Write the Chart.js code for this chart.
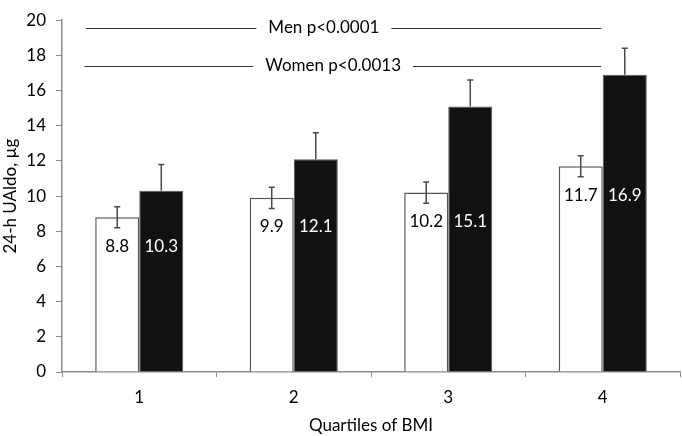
<!DOCTYPE html>
<html>
<head>
<meta charset="utf-8">
<script src="https://cdn.jsdelivr.net/npm/chart.js@4"></script>
<style>
  html, body { margin: 0; padding: 0; background: #fff; }
  #wrap { width: 682px; height: 436px; }
</style>
</head>
<body>
<div id="wrap"><canvas id="chart"></canvas></div>
<script>
// Data
const quartiles = ['1', '2', '3', '4'];
const women = [8.8, 9.9, 10.2, 11.7];
const womenErr = [0.6, 0.6, 0.6, 0.6];
const men = [10.3, 12.1, 15.1, 16.9];
const menErr = [1.5, 1.5, 1.5, 1.5];
const yTicks = [0, 2, 4, 6, 8, 10, 12, 14, 16, 18, 20];

// Significance brackets (x in category index units, y in data units)
const brackets = [
    { text: 'Men p<0.0001', y: 19.56, from: -0.345, to: 2.99, textX: 1.195 },
    { text: 'Women p<0.0013', y: 17.37, from: -0.355, to: 2.99, textX: 1.255 }
];

const FONT = 'Lato, "Open Sans", sans-serif';
const AXIS_GREY = '#8c8c8c';

// Error bars + value labels (both labels sit level, below the white bar top)
const barExtras = {
    id: 'barExtras',
    afterDatasetsDraw(chart) {
        const ctx = chart.ctx;
        const yScale = chart.scales.y;
        const firstMeta = chart.getDatasetMeta(0);
        chart.data.datasets.forEach((ds, di) => {
            const meta = chart.getDatasetMeta(di);
            meta.data.forEach((bar, i) => {
                const v = ds.data[i];
                const e = ds.errors[i];
                const yTop = yScale.getPixelForValue(v + e);
                const yBot = yScale.getPixelForValue(ds.errorDown ? v - e : v);
                ctx.save();
                ctx.strokeStyle = '#4a4a4a';
                ctx.lineWidth = 1.5;
                ctx.beginPath();
                ctx.moveTo(bar.x, yTop);
                ctx.lineTo(bar.x, yBot);
                ctx.moveTo(bar.x - 3, yTop);
                ctx.lineTo(bar.x + 3, yTop);
                if (ds.errorDown) {
                    ctx.moveTo(bar.x - 3, yBot);
                    ctx.lineTo(bar.x + 3, yBot);
                }
                ctx.stroke();

                ctx.font = '17px ' + FONT;
                ctx.fillStyle = ds.labelColor;
                ctx.textAlign = 'center';
                ctx.textBaseline = 'middle';
                ctx.fillText(v.toFixed(1), bar.x, firstMeta.data[i].y + 29);
                ctx.restore();
            });
        });
    }
};

// Horizontal significance lines with text in the gap
const sigLines = {
    id: 'sigLines',
    afterDraw(chart) {
        const ctx = chart.ctx;
        const xs = chart.scales.x, ys = chart.scales.y;
        const x0 = xs.getPixelForValue(0);
        const step = xs.getPixelForValue(1) - x0;
        ctx.save();
        ctx.font = '17px ' + FONT;
        ctx.textAlign = 'center';
        ctx.textBaseline = 'middle';
        brackets.forEach(b => {
            const y = Math.round(ys.getPixelForValue(b.y)) + 0.5;
            const left = x0 + b.from * step;
            const right = x0 + b.to * step;
            const tx = x0 + b.textX * step;
            const half = ctx.measureText(b.text).width / 2 + 12;
            ctx.strokeStyle = '#333';
            ctx.lineWidth = 1.2;
            ctx.beginPath();
            ctx.moveTo(left, y);
            ctx.lineTo(tx - half, y);
            ctx.moveTo(tx + half, y);
            ctx.lineTo(right, y);
            ctx.stroke();
            ctx.fillStyle = '#000';
            ctx.fillText(b.text, tx, y - 1);
        });
        ctx.restore();
    }
};

new Chart(document.getElementById('chart'), {
    type: 'bar',
    data: {
        labels: quartiles,
        datasets: [
            {
                label: 'Women',
                data: women,
                errors: womenErr,
                errorDown: true,
                labelColor: '#000',
                backgroundColor: '#ffffff',
                borderColor: '#555',
                borderWidth: 1.5,
                categoryPercentage: 0.57,
                barPercentage: 1.0
            },
            {
                label: 'Men',
                data: men,
                errors: menErr,
                errorDown: false,
                labelColor: '#ffffff',
                backgroundColor: '#111111',
                borderColor: '#555',
                borderWidth: 1,
                categoryPercentage: 0.57,
                barPercentage: 1.0
            }
        ]
    },
    options: {
        responsive: true,
        maintainAspectRatio: false,
        animation: false,
        layout: { padding: { left: 0, right: 2, top: 12, bottom: 0 } },
        plugins: {
            legend: { display: false },
            tooltip: { enabled: false }
        },
        scales: {
            x: {
                grid: {
                    drawOnChartArea: false,
                    drawTicks: true,
                    tickLength: 5,
                    color: AXIS_GREY,
                    offset: true
                },
                border: { color: AXIS_GREY, width: 1.5 },
                ticks: {
                    color: '#000',
                    font: { family: FONT, size: 17 },
                    padding: 10
                },
                title: {
                    display: true,
                    text: 'Quartiles of BMI',
                    color: '#000',
                    font: { family: FONT, size: 17 },
                    padding: { top: 2, bottom: 0 }
                },
                afterFit(scale) { scale.height = 64; }
            },
            y: {
                min: 0,
                max: 20,
                afterBuildTicks(scale) {
                    scale.ticks = yTicks.map(v => ({ value: v }));
                },
                grid: {
                    drawOnChartArea: false,
                    tickLength: 6,
                    color: AXIS_GREY
                },
                border: { color: AXIS_GREY, width: 1.5 },
                ticks: {
                    color: '#000',
                    font: { family: FONT, size: 17 },
                    padding: 10
                },
                title: {
                    display: true,
                    text: '24-h UAldo, µg',
                    color: '#000',
                    font: { family: FONT, size: 17 },
                    padding: { top: 0, bottom: 2 }
                },
                afterFit(scale) { scale.width = 62; }
            }
        }
    },
    plugins: [barExtras, sigLines]
});
</script>
</body>
</html>
